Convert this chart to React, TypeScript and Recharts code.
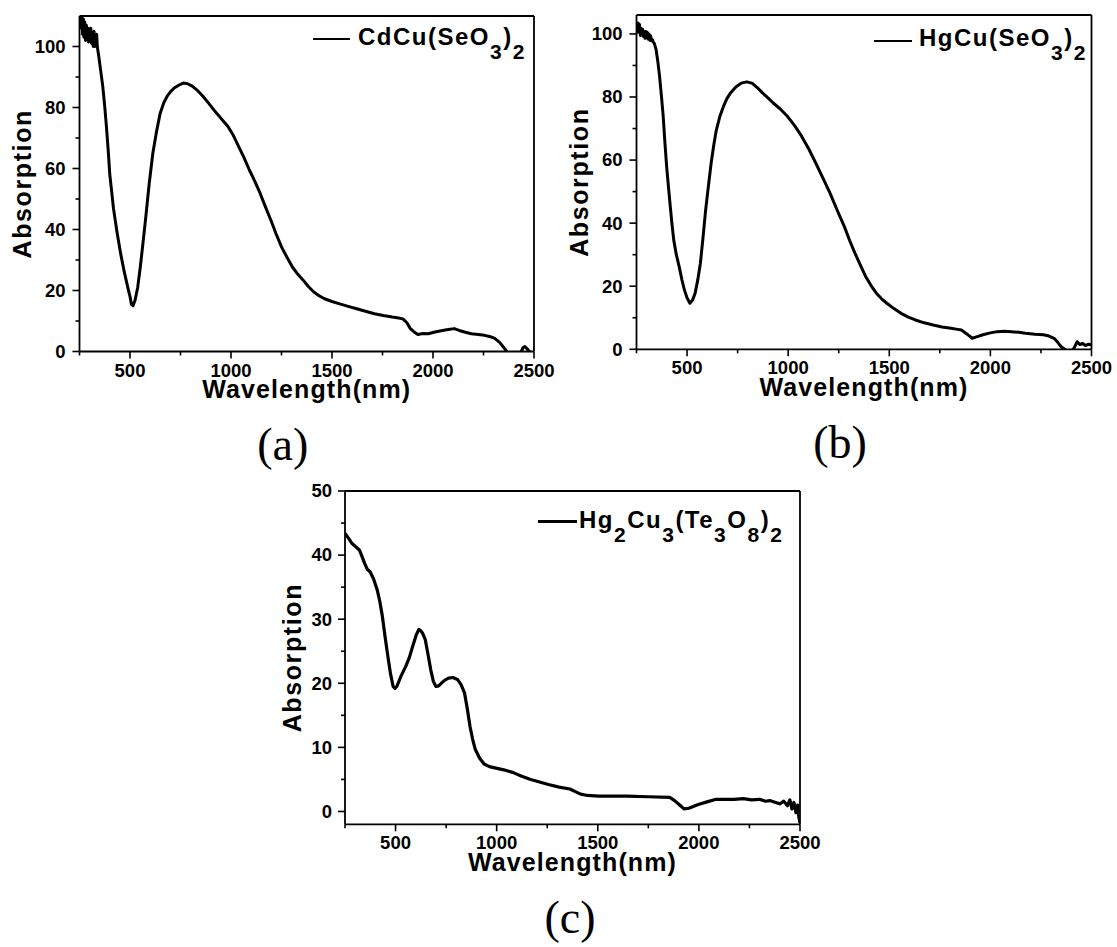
import React from 'react';
import { LineChart, Line, XAxis, YAxis, Label, Legend, ReferenceLine } from 'recharts';

const FONT = "'Liberation Sans', Arial, Helvetica, sans-serif";
const SERIF = "'Liberation Serif', 'Times New Roman', Times, serif";

// ---- Spectrum (a): CdCu(SeO3)2 ----
const wavelengthA = [
  250, 254, 258, 262, 265, 269, 272, 276, 280, 284, 288, 292, 295, 299, 302, 306, 310, 314, 318, 322,
  325, 329, 332, 335, 338, 345, 355, 365, 374, 383, 392, 400,
  410, 418, 436, 454, 472, 489, 500, 507, 515, 525, 538, 551, 565, 578, 595, 613, 631, 649, 667, 684,
  702, 719, 741, 763, 785, 808, 835, 861, 888, 914, 950, 985, 1012, 1038, 1065, 1091, 1118, 1144, 1170, 1197,
  1223, 1250, 1277, 1304, 1330, 1357, 1383, 1410, 1436, 1463, 1500, 1534, 1580, 1622, 1666, 1710, 1754, 1798, 1830, 1851,
  1870, 1888, 1905, 1925, 1950, 1976, 2010, 2047, 2075, 2105, 2130, 2160, 2190, 2224, 2255, 2280, 2304, 2330, 2354, 2365,
  2385, 2410, 2430, 2445, 2455, 2470, 2485, 2500,
];
const absorptionA = [
  108, 111, 106, 112, 104, 109, 103, 108, 102, 107, 103, 106, 101.5, 105, 102, 106, 101, 104, 100, 105,
  100, 103, 101, 104, 100, 97, 92, 87, 81, 74, 66, 58,
  52, 47, 39, 32, 26, 21, 18, 15.5, 15, 16.8, 21, 27.7, 36, 44, 55, 65, 72, 78, 81.5, 83.7,
  85.3, 86.4, 87.3, 88, 87.8, 87, 85.5, 83.7, 81.5, 79.3, 76.5, 73.8, 70.8, 67.2, 63.5, 59.5, 55.8, 51.9, 47.5, 43.1,
  38.6, 34.3, 30.9, 27.7, 25.4, 23.4, 21.3, 19.5, 18.3, 17.3, 16.4, 15.7, 14.8, 14, 13.2, 12.4, 11.8, 11.3, 11, 10.7,
  9.5, 7.5, 6.5, 5.6, 5.9, 5.8, 6.4, 6.9, 7.2, 7.5, 6.9, 6.3, 5.8, 5.6, 5.3, 4.9, 4.4, 3, 1, 0,
  -2, -2, -1, 1.2, 1.6, 0.6, -0.5, -1,
];

// ---- Spectrum (b): HgCu(SeO3)2 ----
const wavelengthB = [
  250, 254, 258, 262, 265, 269, 272, 276, 280, 284, 288, 292, 295, 299, 303, 307, 312, 316, 320, 324,
  329, 333, 338, 347, 356, 364, 373, 382, 390, 399, 408,
  417, 425, 434, 447, 461, 474, 487, 500, 514, 527, 540, 553, 566, 579, 592, 606, 619, 632, 645, 662,
  680, 697, 715, 741, 768, 795, 821, 847, 873, 900, 926, 961, 996, 1032, 1067, 1102, 1137, 1172, 1207, 1243,
  1278, 1304, 1330, 1357, 1383, 1410, 1436, 1462, 1488, 1523, 1558, 1594, 1629, 1673, 1717, 1761, 1805, 1830, 1857, 1885,
  1910, 1935, 1963, 2000, 2033, 2070, 2104, 2140, 2174, 2220, 2262, 2290, 2315, 2333, 2350, 2368, 2385, 2403, 2415, 2429,
  2442, 2455, 2470, 2485, 2500,
];
const absorptionB = [
  102.4, 100.5, 103.5, 101, 103, 99.5, 101.8, 99.8, 101.5, 99.2, 100.8, 98.6, 100.8, 99, 100.5, 98.4, 100, 98, 99.4, 97.8,
  98.2, 97.4, 97, 95, 91, 86.6, 80.5, 73.9, 66, 58, 51.5,
  45.3, 40, 34.7, 30, 26.2, 22.2, 18.8, 16.3, 14.6, 15.6, 17.8, 22, 27.3, 35.5, 44.2, 52, 59, 64.7, 69.6, 73.8,
  77, 79.5, 81.3, 83.2, 84.4, 84.8, 84.4, 83, 81.3, 79.7, 78.1, 76.2, 73.9, 70.9, 67.5, 63.5, 59, 54.3, 49.5, 44,
  38.9, 34.5, 30.5, 26.7, 23.1, 20.2, 17.8, 16, 14.6, 12.9, 11.4, 10.2, 9.3, 8.4, 7.7, 7.1, 6.7, 6.4, 6.1, 4.8,
  3.5, 4, 4.6, 5.2, 5.6, 5.7, 5.6, 5.4, 5.1, 4.8, 4.6, 4.2, 3.5, 2.2, 0.8, 0, -1, -0.5, 0.5, 2.4,
  1.5, 1.9, 1.2, 1.6, 1.4,
];

// ---- Spectrum (c): Hg2Cu3(Te3O8)2 ----
const wavelengthC = [
  250, 268, 285, 303, 321, 334, 347, 360, 374, 391, 409, 422, 435, 448, 462, 475, 488, 497, 506, 528,
  550, 568, 585, 603, 615, 621, 634, 647, 660, 674, 687, 700, 713, 726, 744, 762, 784, 806, 824, 841,
  855, 868, 881, 894, 916, 938, 964, 991, 1035, 1079, 1124, 1168, 1212, 1256, 1309, 1362, 1389, 1415, 1450, 1503,
  1574, 1644, 1750, 1856, 1880, 1905, 1926, 1950, 1997, 2040, 2085, 2130, 2174, 2220, 2260, 2300, 2330, 2350, 2380, 2400,
  2420, 2438, 2450, 2460, 2470, 2480, 2488, 2494, 2500,
];
const absorptionC = [
  43.4, 42.6, 41.8, 41.3, 40.8, 39.8, 38.7, 37.8, 37.4, 36.3, 34.6, 32.8, 30.4, 27.3, 24.2, 21.5, 19.5, 19.2, 19.5, 21.2,
  22.6, 24, 25.8, 27.6, 28.4, 28.3, 27.8, 26.8, 24.6, 22.1, 20.3, 19.5, 19.6, 20, 20.5, 20.8, 20.9, 20.6, 19.8, 18.5,
  16, 13.3, 11.3, 9.7, 8.3, 7.4, 7, 6.8, 6.5, 6.1, 5.5, 5, 4.6, 4.2, 3.8, 3.5, 3.1, 2.7, 2.5, 2.4,
  2.4, 2.4, 2.3, 2.2, 1.7, 1, 0.4, 0.5, 1.1, 1.5, 1.9, 1.9, 1.9, 2, 1.8, 1.9, 1.6, 1.7, 1.4, 1.2,
  1.6, 0.9, 1.8, 0.4, 1.4, -0.2, 1, -0.8, -1.8,
];

// ---- Axis ticks ----
const xTicks = [250, 500, 750, 1000, 1250, 1500, 1750, 2000, 2250, 2500];
const xMajorTicks = [500, 1000, 1500, 2000, 2500];
const yTicksAB = [0, 10, 20, 30, 40, 50, 60, 70, 80, 90, 100];
const yMajorAB = [0, 20, 40, 60, 80, 100];
const yTicksC = [0, 5, 10, 15, 20, 25, 30, 35, 40, 45, 50];
const yMajorC = [0, 10, 20, 30, 40, 50];

// ---- Legend formulas (sub = subscript) ----
const formulaA = [{ t: 'CdCu(SeO' }, { t: '3', sub: true }, { t: ')' }, { t: '2', sub: true }];
const formulaB = [{ t: 'HgCu(SeO' }, { t: '3', sub: true }, { t: ')' }, { t: '2', sub: true }];
const formulaC = [
  { t: 'Hg' }, { t: '2', sub: true }, { t: 'Cu' }, { t: '3', sub: true }, { t: '(Te' },
  { t: '3', sub: true }, { t: 'O' }, { t: '8', sub: true }, { t: ')' }, { t: '2', sub: true },
];

const toRows = (wl: number[], vals: number[]) => wl.map((w, i) => ({ wl: w, v: vals[i] }));

const AXIS_W = 1.8;

const makeXTick = (majors: number[]) => (props: any) => {
  const { x, y, payload } = props;
  const major = majors.includes(payload.value);
  return (
    <g>
      <line x1={x} y1={y} x2={x} y2={y + (major ? 7 : 4)} stroke="#000" strokeWidth={1.6} />
      {major && (
        <text x={x} y={y + 25} textAnchor="middle" fontFamily={FONT} fontWeight="bold" fontSize={18.5} fill="#000">
          {payload.value}
        </text>
      )}
    </g>
  );
};

const makeYTick = (majors: number[], gap: number) => (props: any) => {
  const { x, y, payload } = props;
  const major = majors.includes(payload.value);
  return (
    <g>
      <line x1={x} y1={y} x2={x - (major ? 7 : 4)} y2={y} stroke="#000" strokeWidth={1.6} />
      {major && (
        <text x={x - gap} y={y + 6.4} textAnchor="end" fontFamily={FONT} fontWeight="bold" fontSize={18.5} fill="#000">
          {payload.value}
        </text>
      )}
    </g>
  );
};

type Piece = { t: string; sub?: boolean };

const makeLegend = (formula: Piece[], o: { lineTop: number; lineLen: number; lineW: number; textLeft: number; textTop: number; fontSize: number }) =>
  () => (
    <div style={{ position: 'relative', width: 260, height: 60 }}>
      <div style={{ position: 'absolute', left: 0, top: o.lineTop, width: o.lineLen, height: o.lineW, background: '#000' }} />
      <div
        style={{
          position: 'absolute', left: o.textLeft, top: o.textTop, fontFamily: FONT, fontWeight: 'bold',
          fontSize: o.fontSize, lineHeight: 1, letterSpacing: 1.5, whiteSpace: 'nowrap', color: '#000',
        }}
      >
        {formula.map((p, i) =>
          p.sub ? (
            <span key={i} style={{ fontSize: o.fontSize - 3, position: 'relative', top: 14 }}>{p.t}</span>
          ) : (
            <span key={i}>{p.t}</span>
          )
        )}
      </div>
    </div>
  );

interface PanelProps {
  left: number; top: number; width: number; height: number;
  margin: { top: number; right: number; bottom: number; left: number };
  yAxisWidth: number; xAxisHeight: number;
  rows: { wl: number; v: number }[];
  yDomain: [number, number];
  yTicks: number[]; yMajor: number[]; yLabelGap: number;
  yTitleGap: number;
  tag: string; tagDx: number;
  strokeWidth: number;
  legend: () => React.ReactElement;
  legendPos: { left: number; top: number };
}

function Panel(p: PanelProps) {
  return (
    <div style={{ position: 'absolute', left: p.left, top: p.top }}>
      <LineChart width={p.width} height={p.height} data={p.rows} margin={p.margin}>
        <XAxis
          dataKey="wl" type="number" domain={[250, 2500]} ticks={xTicks} interval={0}
          allowDataOverflow tickLine={false} tickSize={0} tickMargin={0}
          tick={makeXTick(xMajorTicks)} height={p.xAxisHeight}
          axisLine={{ stroke: '#000', strokeWidth: AXIS_W }}
        >
          <Label
            content={(lp: any) => {
              const vb = lp.viewBox;
              const cx = vb.x + vb.width / 2;
              return (
                <g>
                  <text x={cx} y={vb.y + 46.5} textAnchor="middle" fontFamily={FONT} fontWeight="bold"
                    fontSize={25} letterSpacing={1.1} fill="#000">
                    Wavelength(nm)
                  </text>
                  <text x={cx + p.tagDx} y={vb.y + 108.5} textAnchor="middle" fontFamily={SERIF}
                    fontSize={46} fill="#000">
                    {p.tag}
                  </text>
                </g>
              );
            }}
          />
        </XAxis>
        <YAxis
          type="number" domain={p.yDomain} ticks={p.yTicks} interval={0} allowDataOverflow
          tickLine={false} tickSize={0} tickMargin={0} tick={makeYTick(p.yMajor, p.yLabelGap)}
          width={p.yAxisWidth} axisLine={{ stroke: '#000', strokeWidth: AXIS_W }}
        >
          <Label
            content={(lp: any) => {
              const vb = lp.viewBox;
              const x = vb.x + vb.width - p.yTitleGap;
              const y = vb.y + vb.height / 2;
              return (
                <text x={x} y={y} transform={`rotate(-90 ${x} ${y})`} textAnchor="middle" fontFamily={FONT}
                  fontWeight="bold" fontSize={25} letterSpacing={1.6} fill="#000">
                  Absorption
                </text>
              );
            }}
          />
        </YAxis>
        <ReferenceLine y={p.yDomain[1]} stroke="#000" strokeWidth={AXIS_W} />
        <ReferenceLine x={2500} stroke="#000" strokeWidth={AXIS_W} />
        <Legend
          layout="horizontal" verticalAlign="middle" align="center"
          content={p.legend}
          wrapperStyle={{ left: p.legendPos.left, top: p.legendPos.top, width: 260, height: 60 }}
        />
        <Line
          dataKey="v" type="linear" dot={false} activeDot={false} stroke="#000"
          strokeWidth={p.strokeWidth} strokeLinejoin="round" isAnimationActive={false}
        />
      </LineChart>
    </div>
  );
}

export default function App() {
  return (
    <div style={{ position: 'absolute', left: 0, top: 0, width: 1117, height: 947, background: '#fff', overflow: 'hidden' }}>
      <Panel
        left={0} top={0} width={560} height={480}
        margin={{ top: 16, right: 26, bottom: 0, left: 0 }}
        yAxisWidth={79.5} xAxisHeight={128.5}
        rows={toRows(wavelengthA, absorptionA)} yDomain={[0, 110]}
        yTicks={yTicksAB} yMajor={yMajorAB} yLabelGap={14} yTitleGap={48.5}
        tag="(a)" tagDx={-24} strokeWidth={3}
        legend={makeLegend(formulaA, { lineTop: 18, lineLen: 37, lineW: 2, textLeft: 45, textTop: 4.7, fontSize: 24 })}
        legendPos={{ left: 313, top: 20 }}
      />
      <Panel
        left={557} top={0} width={560} height={480}
        margin={{ top: 15, right: 25.5, bottom: 0, left: 0 }}
        yAxisWidth={79.5} xAxisHeight={130.7}
        rows={toRows(wavelengthB, absorptionB)} yDomain={[0, 106]}
        yTicks={yTicksAB} yMajor={yMajorAB} yLabelGap={14} yTitleGap={48.5}
        tag="(b)" tagDx={-24} strokeWidth={3}
        legend={makeLegend(formulaB, { lineTop: 20, lineLen: 38, lineW: 2, textLeft: 45, textTop: 6.2, fontSize: 24 })}
        legendPos={{ left: 317, top: 20 }}
      />
      <Panel
        left={265} top={480} width={560} height={467}
        margin={{ top: 11, right: 25, bottom: 0, left: 0 }}
        yAxisWidth={80} xAxisHeight={122.7}
        rows={toRows(wavelengthC, absorptionC)} yDomain={[-2, 50]}
        yTicks={yTicksC} yMajor={yMajorC} yLabelGap={13} yTitleGap={44}
        tag="(c)" tagDx={-2.5} strokeWidth={3.2}
        legend={makeLegend(formulaC, { lineTop: 29.5, lineLen: 39, lineW: 3, textLeft: 41, textTop: 17.7, fontSize: 24 })}
        legendPos={{ left: 273, top: 10 }}
      />
    </div>
  );
}
